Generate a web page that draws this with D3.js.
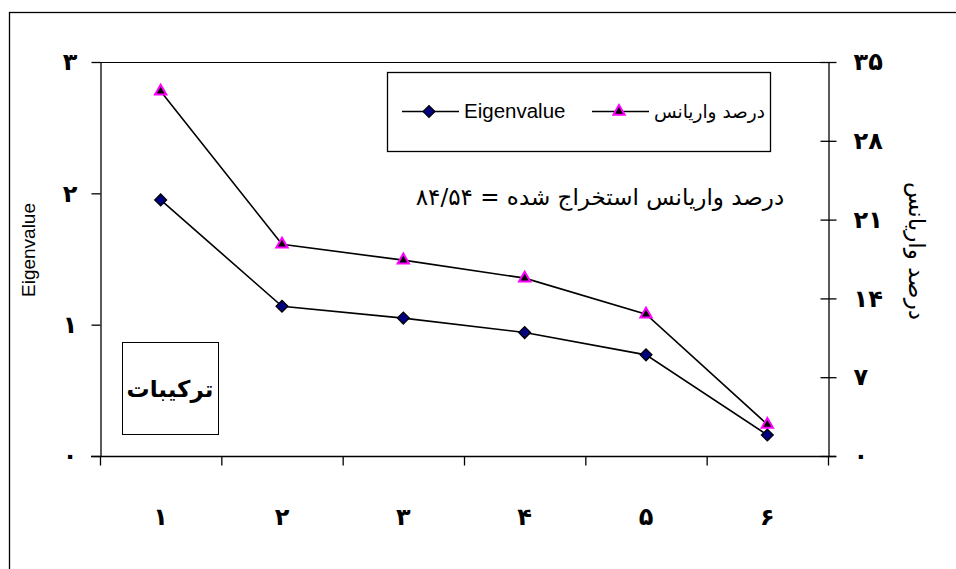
<!DOCTYPE html>
<html>
<head>
<meta charset="utf-8">
<script src="https://cdn.jsdelivr.net/npm/d3@7"></script>
<style>
  html, body { margin: 0; padding: 0; background: #fff; }
  svg { display: block; }
</style>
</head>
<body>
<svg id="chart" width="956" height="569"></svg>
<script>
// Components 1..6 with eigenvalues and percent of variance explained
const components = [1, 2, 3, 4, 5, 6];
const eigenvalues = [1.95, 1.14, 1.05, 0.94, 0.77, 0.16];
const variancePct = [32.4, 18.8, 17.4, 15.8, 12.6, 2.8];
const leftTicks = [0, 1, 2, 3];
const rightTicks = [0, 7, 14, 21, 28, 35];
const seriesNames = ["Eigenvalue", "درصد واریانس"];
const leftTitle = "Eigenvalue";
const rightTitle = "درصد واریانس";
const noteText = "درصد واریانس استخراج شده = ۸۴/۵۴";
const boxText = "ترکیبات";

const faDigits = "۰۱۲۳۴۵۶۷۸۹";
const fa = v => String(v).replace(/\d/g, d => faDigits[+d]);

const svg = d3.select("#chart");
const FONT = "'DejaVu Sans', sans-serif";
const LATIN = "'Liberation Sans', Arial, sans-serif";

const plot = { left: 100, right: 828, top: 62, bottom: 456 };

// chart area border
svg.append("rect")
  .attr("x", 9.5).attr("y", 12.5)
  .attr("width", 980).attr("height", 600)
  .attr("fill", "#fff").attr("stroke", "#000").attr("stroke-width", 1.3);

const x = d3.scaleBand().domain(components).range([plot.left, plot.right]);
const xEdges = d3.scaleLinear().domain([0, components.length]).range([plot.left, plot.right]);
const yL = d3.scaleLinear().domain([0, 3]).range([plot.bottom, plot.top]);
const yR = d3.scaleLinear().domain([0, 35]).range([plot.bottom, plot.top]);
const cx = d => x(d) + x.bandwidth() / 2;

// plot area top edge
svg.append("line")
  .attr("x1", plot.left).attr("x2", plot.right)
  .attr("y1", plot.top + 0.5).attr("y2", plot.top + 0.5)
  .attr("stroke", "#000").attr("stroke-width", 1);

// left axis
const gL = svg.append("g").attr("transform", `translate(${plot.left + 0.5},0)`)
  .call(d3.axisLeft(yL).tickValues(leftTicks).tickFormat(fa).tickSizeInner(9).tickSizeOuter(0).tickPadding(14));
// right axis, ticks cross the line
const gR = svg.append("g").attr("transform", `translate(${plot.right + 0.5},0)`)
  .call(d3.axisRight(yR).tickValues(rightTicks).tickFormat(fa).tickSizeInner(8).tickSizeOuter(0).tickPadding(17));
gR.selectAll(".tick line").attr("x1", -8);
// bottom axis: ticks at category edges
const gB = svg.append("g").attr("transform", `translate(0,${plot.bottom + 0.5})`)
  .call(d3.axisBottom(xEdges).tickValues(d3.range(components.length + 1)).tickFormat("").tickSizeInner(9).tickSizeOuter(0));
gB.select(".domain").attr("d", `M${plot.left - 9},0H${plot.right + 8}`);
// bottom category labels
const gBL = svg.append("g").attr("transform", `translate(0,${plot.bottom})`)
  .call(d3.axisBottom(x).tickFormat(fa).tickSize(0).tickPadding(52));
gBL.select(".domain").remove();

[gL, gR, gB].forEach(g => {
  g.selectAll(".domain").attr("stroke", "#000").attr("stroke-width", 1.3);
  g.selectAll(".tick line").attr("stroke", "#000").attr("stroke-width", 1.3);
});
[gL, gR, gBL].forEach(g => {
  g.selectAll("text").attr("font-family", FONT).attr("font-size", 24).attr("font-weight", "bold").attr("fill", "#000");
});

// axis titles
svg.append("text")
  .attr("transform", "translate(35,250) rotate(-90)")
  .attr("text-anchor", "middle")
  .attr("font-family", LATIN).attr("font-size", 19)
  .text(leftTitle);
svg.append("text")
  .attr("transform", "translate(909,251) rotate(90)")
  .attr("text-anchor", "middle")
  .attr("font-family", FONT).attr("font-size", 23)
  .text(rightTitle);

// series lines
const lineL = d3.line().x((d, i) => cx(components[i])).y(d => yL(d));
const lineR = d3.line().x((d, i) => cx(components[i])).y(d => yR(d));
svg.append("path").attr("d", lineR(variancePct)).attr("fill", "none").attr("stroke", "#000").attr("stroke-width", 1.6);
svg.append("path").attr("d", lineL(eigenvalues)).attr("fill", "none").attr("stroke", "#000").attr("stroke-width", 1.6);

const diamond = d3.symbol().type(d3.symbolSquare).size(70);
const triangle = d3.symbol().type(d3.symbolTriangle).size(55);

svg.append("g").selectAll("path").data(eigenvalues).join("path")
  .attr("d", diamond)
  .attr("transform", (d, i) => `translate(${cx(components[i])},${yL(d)}) rotate(45)`)
  .attr("fill", "#000080").attr("stroke", "#000").attr("stroke-width", 1.3);
svg.append("g").selectAll("path").data(variancePct).join("path")
  .attr("d", triangle)
  .attr("transform", (d, i) => `translate(${cx(components[i])},${yR(d)})`)
  .attr("fill", "#000").attr("stroke", "#ff00ff").attr("stroke-width", 2);

// legend
const lg = svg.append("g");
lg.append("rect").attr("x", 387.5).attr("y", 72.5).attr("width", 383).attr("height", 79)
  .attr("fill", "#fff").attr("stroke", "#000").attr("stroke-width", 1.3);
const legendItems = [
  { name: seriesNames[0], x0: 402, sym: diamond, rot: 45, fill: "#000080", stroke: "#000", sw: 1.3, font: LATIN, fs: 20.5 },
  { name: seriesNames[1], x0: 592, sym: triangle, rot: 0, fill: "#000", stroke: "#ff00ff", sw: 2, font: FONT, fs: 18.5 }
];
legendItems.forEach(it => {
  const ly = 111.5;
  lg.append("line").attr("x1", it.x0).attr("x2", it.x0 + 57).attr("y1", ly).attr("y2", ly)
    .attr("stroke", "#000").attr("stroke-width", 1.6);
  lg.append("path").attr("d", it.sym)
    .attr("transform", `translate(${it.x0 + 27},${ly}) rotate(${it.rot})`)
    .attr("fill", it.fill).attr("stroke", it.stroke).attr("stroke-width", it.sw);
  lg.append("text").attr("x", it.x0 + 62).attr("y", ly + 6)
    .attr("font-family", it.font).attr("font-size", it.fs)
    .text(it.name);
});

// explained-variance note
svg.append("text")
  .attr("x", 600).attr("y", 205)
  .attr("direction", "rtl")
  .attr("text-anchor", "middle")
  .attr("font-family", FONT).attr("font-size", 23)
  .text(noteText);

// label box
svg.append("rect").attr("x", 122.5).attr("y", 342.5).attr("width", 96).attr("height", 92)
  .attr("fill", "#fff").attr("stroke", "#000").attr("stroke-width", 1);
svg.append("text")
  .attr("x", 170).attr("y", 397)
  .attr("text-anchor", "middle")
  .attr("font-family", FONT).attr("font-size", 23).attr("font-weight", "bold")
  .text(boxText);
</script>
</body>
</html>
